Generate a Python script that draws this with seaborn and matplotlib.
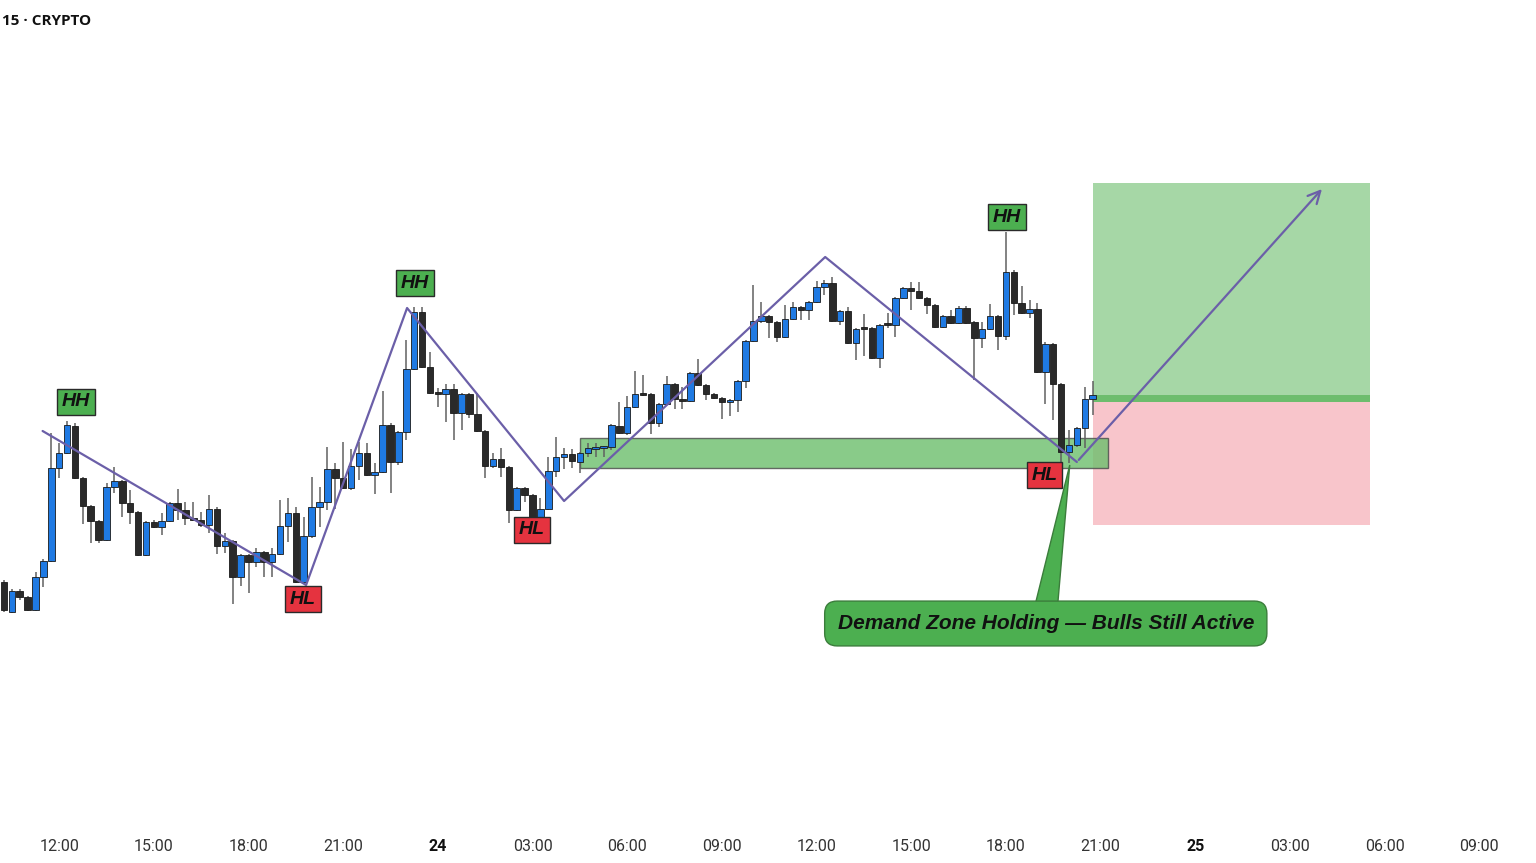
import numpy as np
import pandas as pd
import matplotlib
matplotlib.use("Agg")
import matplotlib.pyplot as plt
import seaborn as sns
from matplotlib.patches import Rectangle, Polygon

# ---------------- data (15-minute candles, arbitrary price units) ----------------
opens = [118, 88, 109, 103, 90, 123, 139, 232, 247, 274,
         222, 194, 179, 160, 213, 219, 197, 188, 145, 178,
         173, 179, 197, 190, 182, 180, 175, 191, 154, 159,
         123, 145, 138, 148, 138, 146, 174, 187, 118, 164,
         193, 198, 231, 222, 212, 234, 247, 225, 228, 275,
         238, 268, 331, 388, 333, 307, 306, 311, 287, 306,
         286, 269, 234, 241, 233, 190, 212, 205, 183, 191,
         229, 243, 246, 238, 247, 251, 252, 253, 274, 267,
         293, 306, 306, 277, 296, 316, 301, 299, 327, 315,
         306, 302, 298, 300, 319, 359, 379, 384, 378, 363,
         381, 393, 390, 398, 413, 417, 379, 389, 357, 372,
         372, 342, 375, 375, 402, 412, 409, 402, 395, 373,
         384, 377, 392, 378, 362, 371, 384, 364, 428, 397,
         387, 391, 328, 356, 316, 248, 255, 272, 301]
closes = [90, 109, 103, 90, 123, 139, 232, 247, 275, 222,
          194, 179, 160, 213, 219, 197, 188, 145, 178, 173,
          179, 197, 190, 182, 180, 175, 191, 154, 159, 123,
          145, 138, 148, 138, 146, 174, 187, 118, 164, 193,
          198, 231, 222, 212, 234, 247, 225, 228, 275, 238,
          268, 331, 388, 333, 307, 306, 311, 287, 306, 286,
          269, 234, 241, 233, 190, 212, 205, 177, 191, 229,
          243, 246, 239, 247, 252, 253, 253, 275, 267, 293,
          306, 305, 277, 296, 316, 301, 299, 327, 315, 306,
          302, 298, 300, 319, 359, 379, 384, 378, 363, 381,
          393, 390, 398, 413, 417, 379, 389, 357, 371, 371,
          342, 375, 375, 402, 412, 409, 402, 395, 373, 384,
          377, 392, 377, 362, 371, 384, 364, 428, 397, 387,
          391, 328, 356, 316, 248, 255, 272, 301, 305]
highs = [120, 111, 111, 104, 128, 141, 267, 257, 279, 277,
         223, 195, 180, 217, 233, 220, 210, 189, 179, 180,
         187, 198, 211, 198, 198, 188, 205, 193, 167, 160,
         146, 146, 152, 149, 152, 200, 202, 193, 183, 223,
         213, 253, 237, 258, 251, 258, 257, 237, 309, 277,
         269, 360, 393, 393, 348, 312, 316, 316, 307, 307,
         307, 270, 247, 252, 234, 213, 213, 206, 202, 243,
         263, 252, 251, 248, 257, 257, 254, 276, 298, 304,
         329, 325, 307, 297, 324, 317, 313, 328, 341, 316,
         307, 303, 301, 320, 360, 415, 398, 385, 379, 395,
         398, 394, 399, 419, 420, 423, 390, 393, 372, 386,
         373, 376, 387, 403, 413, 418, 418, 403, 396, 385,
         390, 394, 394, 379, 378, 396, 385, 468, 430, 414,
         400, 397, 358, 357, 317, 270, 273, 313, 319]
lows = [88, 87, 100, 89, 89, 113, 138, 222, 246, 221,
        176, 157, 157, 159, 207, 183, 176, 144, 144, 172,
        165, 178, 180, 175, 179, 173, 167, 146, 147, 96,
        114, 107, 133, 123, 123, 145, 158, 117, 117, 162,
        173, 190, 191, 211, 210, 220, 224, 206, 227, 207,
        235, 260, 330, 332, 306, 293, 278, 260, 270, 282,
        268, 222, 232, 223, 177, 189, 198, 176, 182, 190,
        223, 231, 232, 227, 243, 243, 243, 250, 266, 265,
        292, 304, 266, 273, 295, 291, 291, 298, 314, 300,
        301, 281, 284, 288, 312, 358, 377, 362, 358, 362,
        380, 380, 380, 397, 405, 378, 375, 356, 340, 344,
        341, 332, 372, 363, 401, 390, 401, 386, 372, 372,
        376, 376, 376, 320, 352, 370, 350, 360, 385, 386,
        382, 327, 296, 280, 238, 237, 253, 252, 285]

tick_labels = ["12:00", "15:00", "18:00", "21:00", "24", "03:00", "06:00", "09:00",
               "12:00", "15:00", "18:00", "21:00", "25", "03:00", "06:00", "09:00"]

# swing structure (bar index, price)
swing_x = [4.9, 38.3, 51.1, 71.0, 104.1, 136.0]
swing_y = [269, 115, 392, 199, 443, 238]
target_x, target_y = 167.3, 513

labels_text = ["HH", "HL", "HH", "HL", "HH", "HL"]
labels_x = [9.1, 37.9, 52.1, 66.9, 127.1, 131.9]
labels_y = [298, 101, 417, 170, 483, 225]

zone_x0, zone_x1, zone_lo, zone_hi = 73.0, 140.0, 232, 262
rr_x0, rr_x1 = 138.0, 173.1
rr_top, rr_entry_hi, rr_entry_lo, rr_bottom = 517, 305, 298, 175

# ---------------- build frame ----------------
n = len(opens)
df = pd.DataFrame({
    "t": pd.date_range("2024-01-23 10:15", periods=n, freq="15min"),
    "open": opens, "high": highs, "low": lows, "close": closes,
})
df["i"] = np.arange(n)
df["bull"] = df["close"] > df["open"]

sns.set_theme(style="white")
plt.rcParams["font.family"] = ["Roboto", "DejaVu Sans"]

fig = plt.figure(figsize=(15.36, 8.63), dpi=100)
ax = fig.add_axes([0, 38 / 863, 1, 825 / 863])
ax.set_xlim(-0.5, 194.2)
ax.set_ylim(-125, 700)

# risk / reward box
ax.add_patch(Rectangle((rr_x0, rr_entry_hi), rr_x1 - rr_x0, rr_top - rr_entry_hi,
                       fc="#a6d7a6", ec="none", zorder=0.5))
ax.add_patch(Rectangle((rr_x0, rr_bottom), rr_x1 - rr_x0, rr_entry_lo - rr_bottom,
                       fc="#f8c5cb", ec="none", zorder=0.5))
ax.add_patch(Rectangle((rr_x0, rr_entry_lo), rr_x1 - rr_x0, rr_entry_hi - rr_entry_lo,
                       fc="#6dbd6d", ec="none", zorder=0.6))

# demand zone
ax.add_patch(Rectangle((zone_x0, zone_lo), zone_x1 - zone_x0, zone_hi - zone_lo,
                       fc="#6cbf6c", ec="#4a4a4a", lw=1.0, alpha=0.8, zorder=1.5))

# candles
ax.vlines(df["i"], df["low"], df["high"], color="#606060", lw=1.1, zorder=2)
body_lo = np.minimum(df["open"], df["close"])
body_h = np.maximum(np.abs(df["close"] - df["open"]), 1.5)
colors = np.where(df["bull"], "#1f7ae3", "#2a2a2a")
ax.bar(df["i"], body_h, bottom=body_lo, width=0.82, color=colors,
       edgecolor="#1a1a1a", linewidth=0.6, zorder=3)

# swing zigzag
purple = "#6b5fa8"
sns.lineplot(x=swing_x, y=swing_y, sort=False, color=purple, lw=1.6, ax=ax, zorder=4)
ax.annotate("", xy=(target_x, target_y), xytext=(swing_x[-1], swing_y[-1]),
            arrowprops=dict(arrowstyle="->", color=purple, lw=1.6, mutation_scale=22),
            zorder=4)

# HH / HL labels
for t, x, y in zip(labels_text, labels_x, labels_y):
    fc = "#4caf50" if t == "HH" else "#e5333f"
    ax.text(x, y, t, ha="center", va="center", fontsize=14, fontweight="bold",
            style="italic", family=["Liberation Sans", "DejaVu Sans"], color="#111111",
            bbox=dict(boxstyle="square,pad=0.25", fc=fc, ec="#2a2a2a", lw=1.0), zorder=6)

# callout
ax.add_patch(Polygon([(130.8, 98), (133.6, 98), (135.1, 235)], closed=True,
                     fc="#4caf50", ec="#3b7d3b", lw=1.0, zorder=5))
ax.text(132.06, 76.5, "Demand Zone Holding \u2014 Bulls Still Active", ha="center", va="center",
        fontsize=15, fontweight="bold", style="italic", family=["Liberation Sans", "DejaVu Sans"],
        color="#111111",
        bbox=dict(boxstyle="round,pad=0.62,rounding_size=0.6", fc="#4caf50", ec="#3b7d3b", lw=1.0),
        zorder=6)

# axes styling
tick_pos = [7 + 12 * k for k in range(len(tick_labels))]
ax.set_xticks(tick_pos)
ax.set_xticklabels(tick_labels)
ax.tick_params(axis="x", length=0, pad=10, labelsize=11.5, labelcolor="#333333")
for lab in ax.get_xticklabels():
    if lab.get_text() in ("24", "25"):
        lab.set_fontweight("bold")
        lab.set_color("#111111")
ax.set_yticks([])
ax.set_xlabel("")
ax.set_ylabel("")
for s in ax.spines.values():
    s.set_visible(False)

fig.text(0.001, 1 - 21 / 863, "15 \u00b7 CRYPTO", ha="left", va="center", fontsize=11,
         fontweight="bold", family=["Open Sans", "DejaVu Sans"], color="#111111")

fig.savefig("out.png", dpi=100)
